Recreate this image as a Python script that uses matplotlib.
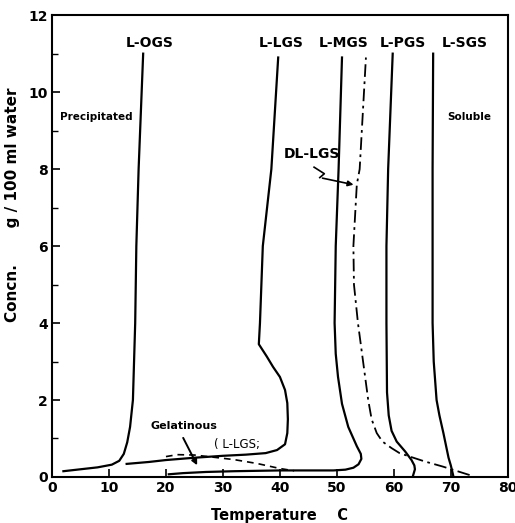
import matplotlib.pyplot as plt
from matplotlib.ticker import MultipleLocator

# curve data (temperature C, concn g/100 ml water)
ogs_t = [2, 5, 8, 10.5, 11.8, 12.6, 13.2, 13.7, 14.2, 14.6, 14.8, 15.2, 15.6, 16.0]
ogs_c = [0.15, 0.2, 0.25, 0.32, 0.42, 0.6, 0.9, 1.3, 2.0, 4.0, 6.0, 8.0, 9.5, 11.0]

lgs_t = [13.1, 17, 20, 25, 30, 34, 37.5, 39.5, 40.9, 41.3, 41.4, 41.3, 40.9, 40.0,
         38.8, 37.7, 36.3, 36.5, 37.0, 38.5, 39.7]
lgs_c = [0.34, 0.39, 0.44, 0.5, 0.55, 0.58, 0.62, 0.7, 0.85, 1.14, 1.5, 1.92, 2.26, 2.6,
         2.86, 3.13, 3.45, 4.0, 6.0, 8.0, 10.9]

mgs_t = [20.5, 23, 27, 32, 40, 46, 49.4, 51.5, 52.9, 53.8, 54.3, 54.2, 53.5, 52.0, 50.9,
         50.2, 49.8, 49.6, 49.8, 50.3, 50.9]
mgs_c = [0.07, 0.1, 0.13, 0.15, 0.17, 0.17, 0.17, 0.19, 0.24, 0.33, 0.47, 0.6, 0.8, 1.3, 1.9,
         2.6, 3.2, 4.0, 6.0, 8.0, 10.9]

dl_t = [73.3, 68.6, 65.5, 62.8, 61.0, 59.6, 58.0, 57.0, 56.1, 55.5, 54.6, 53.7, 53.0, 52.9, 53.5, 54.0, 55.1]
dl_c = [0.05, 0.27, 0.4, 0.53, 0.62, 0.75, 0.92, 1.14, 1.5, 2.0, 3.0, 4.0, 5.0, 6.0, 7.6, 8.0, 10.9]

pgs_t = [63.3, 63.7, 63.6, 63.1, 62.0, 60.5, 59.6, 59.1, 58.8, 58.7, 58.7, 59.0, 59.4, 59.8]
pgs_c = [0.0, 0.2, 0.3, 0.44, 0.66, 0.92, 1.2, 1.6, 2.2, 4.0, 6.0, 8.0, 9.5, 11.0]

sgs_t = [70.4, 70.0, 69.6, 68.7, 68.0, 67.5, 67.0, 66.8, 66.8, 66.8, 66.9]
sgs_c = [0.05, 0.3, 0.5, 1.14, 1.6, 2.0, 3.0, 4.0, 6.0, 8.0, 11.0]

gel_t = [20, 22, 25, 28, 32, 36, 40, 42.5]
gel_c = [0.53, 0.58, 0.57, 0.52, 0.45, 0.35, 0.22, 0.16]

labels = ['L-OGS', 'L-LGS', 'L-MGS', 'L-PGS', 'L-SGS']
label_t = [17.2, 40.3, 51.1, 61.6, 72.5]

fig = plt.figure(figsize=(5.15, 5.23), dpi=100)
ax = fig.add_axes([0.101, 0.088, 0.885, 0.883])

lw = 1.6
ax.plot(ogs_t, ogs_c, color='black', lw=lw)
ax.plot(lgs_t, lgs_c, color='black', lw=lw)
ax.plot(mgs_t, mgs_c, color='black', lw=lw)
ax.plot(pgs_t, pgs_c, color='black', lw=lw)
ax.plot(sgs_t, sgs_c, color='black', lw=lw)
ax.plot(dl_t, dl_c, color='black', lw=1.3, linestyle=(0, (7, 2.5, 1.5, 2.5)))
ax.plot(gel_t, gel_c, color='black', lw=1.2, linestyle=(0, (4, 3)))

ax.set_xlim(0, 80)
ax.set_ylim(0, 12)
ax.xaxis.set_major_locator(MultipleLocator(10))
ax.yaxis.set_major_locator(MultipleLocator(2))
ax.yaxis.set_minor_locator(MultipleLocator(1))
ax.tick_params(axis='both', which='major', direction='in', length=6, width=1.2,
               labelsize=10, pad=3)
ax.tick_params(axis='y', which='minor', direction='in', length=4, width=1.0)
for lab in ax.get_xticklabels() + ax.get_yticklabels():
    lab.set_fontweight('bold')
for s in ax.spines.values():
    s.set_linewidth(1.5)

for name, t in zip(labels, label_t):
    ax.text(t, 11.27, name, ha='center', va='center', fontsize=10, fontweight='bold')

ax.text(1.4, 9.35, 'Precipitated', ha='left', va='center', fontsize=7.5, fontweight='bold')
ax.text(69.3, 9.35, 'Soluble', ha='left', va='center', fontsize=7.5, fontweight='bold')

ax.text(45.6, 8.4, 'DL-LGS', ha='center', va='center', fontsize=10, fontweight='bold')
ax.plot([46.0, 47.8, 47.0], [8.05, 7.88, 7.78], color='black', lw=1.2)
ax.annotate('', xy=(53.4, 7.58), xytext=(47.0, 7.78),
            arrowprops=dict(arrowstyle='-|>', color='black', lw=1.2, mutation_scale=8))

ax.text(23.2, 1.32, 'Gelatinous', ha='center', va='center', fontsize=8, fontweight='bold')
ax.text(32.4, 0.85, '( L-LGS;', ha='center', va='center', fontsize=8.5)
ax.annotate('', xy=(25.7, 0.24), xytext=(22.8, 1.08),
            arrowprops=dict(arrowstyle='-|>', color='black', lw=1.4, mutation_scale=8))

ax.set_xlabel('Temperature    C', fontsize=10.5, fontweight='bold', labelpad=9)
ax.set_ylabel('Concn.       g / 100 ml water', fontsize=11, fontweight='bold')
ax.yaxis.set_label_coords(-0.07, 0.59)

fig.savefig('out.png', dpi=100)
